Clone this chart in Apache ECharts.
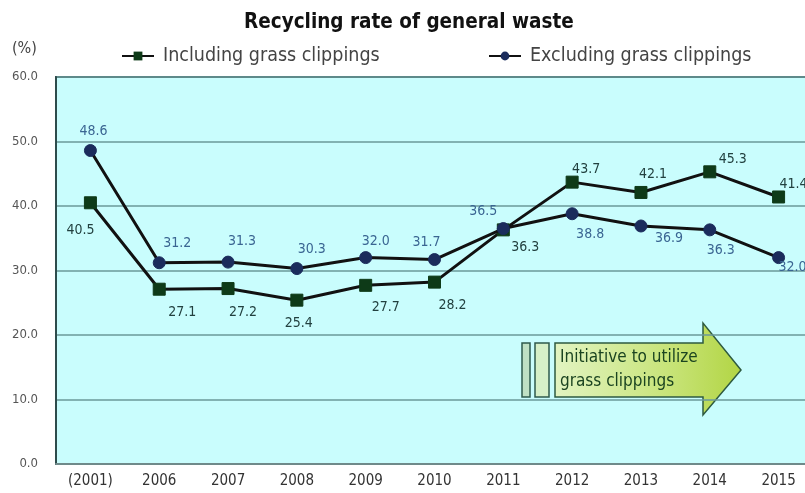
<!DOCTYPE html>
<html>
<head>
<meta charset="utf-8">
<script src="https://cdn.jsdelivr.net/npm/echarts@6/dist/echarts.min.js"></script>
<style>
  html, body { margin: 0; padding: 0; background: #ffffff; overflow: hidden; }
  /* the plot runs a little past the right edge of the window */
  #chart { width: 813px; height: 493px; }
</style>
</head>
<body>
<div id="chart"></div>
<script>
// Recycling rate of general waste (%), by fiscal year
const years = ['(2001)', '2006', '2007', '2008', '2009', '2010', '2011', '2012', '2013', '2014', '2015'];
const includingGrass = [40.5, 27.1, 27.2, 25.4, 27.7, 28.2, 36.3, 43.7, 42.1, 45.3, 41.4];
const excludingGrass = [48.6, 31.2, 31.3, 30.3, 32.0, 31.7, 36.5, 38.8, 36.9, 36.3, 32.0];
const yTicks = [0, 10, 20, 30, 40, 50, 60];

// label offsets [dx, dy] from each point's centre
const includingLabelOffsets = [[-10, 28], [23, 23], [15, 24], [2, 23], [20, 22], [18, 23], [22, 17], [14, -13], [12, -18], [23, -12], [15, -13]];
const excludingLabelOffsets = [[3, -19], [18, -19], [14, -21], [15, -19], [10, -16], [-8, -17], [-20, -17], [18, 21], [28, 12], [11, 20], [14, 10]];

const FONT = "'Liberation Sans Narrow', 'DejaVu Sans Condensed', 'Noto Sans', sans-serif";

function buildData(values, offsets) {
  return values.map((v, i) => ({
    value: v,
    label: { position: 'inside', offset: offsets[i] }
  }));
}

const chart = echarts.init(document.getElementById('chart'), null, { renderer: 'canvas' });

const option = {
  animation: false,
  backgroundColor: '#ffffff',
  textStyle: { fontFamily: FONT },
  title: {
    text: 'Recycling rate of general waste',
    left: 239,
    top: 7,
    textStyle: { fontFamily: FONT, fontSize: 20.5, fontWeight: 'bold', color: '#111111' }
  },
  legend: [
    {
      left: 116, top: 41,
      itemWidth: 32, itemHeight: 11, itemGap: 0,
      textStyle: { fontFamily: FONT, fontSize: 19.5, color: '#444444', padding: [0, 0, 0, 4] },
      data: ['Including grass clippings']
    },
    {
      left: 483, top: 41,
      itemWidth: 32, itemHeight: 11, itemGap: 0,
      textStyle: { fontFamily: FONT, fontSize: 19.5, color: '#444444', padding: [0, 0, 0, 4] },
      data: ['Excluding grass clippings']
    }
  ],
  grid: {
    left: 56, top: 77, right: 0, height: 387,
    show: true,
    backgroundColor: '#c9fdfd',
    borderColor: '#3d6262',
    borderWidth: 2
  },
  xAxis: {
    type: 'category',
    data: years,
    boundaryGap: true,
    axisTick: { show: false },
    axisLine: { show: true, lineStyle: { color: '#6f8a8a', width: 2 } },
    axisLabel: { fontFamily: FONT, fontSize: 15, color: '#333333', margin: 10 },
    splitLine: { show: false }
  },
  yAxis: {
    type: 'value',
    min: yTicks[0],
    max: yTicks[yTicks.length - 1],
    interval: yTicks[1] - yTicks[0],
    axisLine: { show: true, lineStyle: { color: '#2e4c4c', width: 2 } },
    axisTick: { show: false },
    axisLabel: {
      fontFamily: FONT, fontSize: 13, color: '#555555', margin: 18,
      formatter: v => v.toFixed(1)
    },
    splitLine: { show: true, lineStyle: { color: '#6a9898', width: 1.5 } }
  },
  series: [
    {
      name: 'Including grass clippings',
      type: 'line',
      data: buildData(includingGrass, includingLabelOffsets),
      symbol: 'rect',
      symbolSize: 12,
      lineStyle: { color: '#111111', width: 3 },
      itemStyle: { color: '#0e3a18', borderColor: '#0e3a18' },
      label: {
        show: true,
        fontFamily: FONT, fontSize: 14, color: '#22403f',
        formatter: p => p.value.toFixed(1)
      },
      z: 3
    },
    {
      name: 'Excluding grass clippings',
      type: 'line',
      data: buildData(excludingGrass, excludingLabelOffsets),
      symbol: 'circle',
      symbolSize: 12,
      lineStyle: { color: '#111111', width: 3 },
      itemStyle: { color: '#1b2c5c', borderColor: '#1b2c5c' },
      label: {
        show: true,
        fontFamily: FONT, fontSize: 14, color: '#3a6592',
        formatter: p => p.value.toFixed(1)
      },
      z: 4
    }
  ],
  graphic: [
    {
      type: 'text',
      left: 12, top: 41,
      style: { text: '(%)', font: '16px ' + FONT, fill: '#444444' }
    },
    // initiative arrow
    {
      type: 'rect',
      shape: { x: 522, y: 343, width: 8, height: 54 },
      style: { fill: '#bfe0c4', stroke: '#2f5a4c', lineWidth: 1.5 }
    },
    {
      type: 'rect',
      shape: { x: 535, y: 343, width: 14, height: 54 },
      style: { fill: '#d6f0c8', stroke: '#2f5a4c', lineWidth: 1.5 }
    },
    {
      type: 'polygon',
      shape: {
        points: [[555, 343], [703, 343], [703, 323], [741, 370], [703, 415], [703, 397], [555, 397]]
      },
      style: {
        fill: new echarts.graphic.LinearGradient(0, 0, 1, 0, [
          { offset: 0, color: '#e2f4c2' },
          { offset: 0.6, color: '#c8e47a' },
          { offset: 1, color: '#b2d544' }
        ]),
        stroke: '#2e5a40',
        lineWidth: 1.5
      }
    },
    {
      type: 'text',
      left: 560, top: 346,
      style: {
        text: 'Initiative to utilize\ngrass clippings',
        font: '17px ' + FONT,
        fill: '#1b4420',
        lineHeight: 24
      }
    }
  ]
};

chart.setOption(option);
</script>
</body>
</html>
